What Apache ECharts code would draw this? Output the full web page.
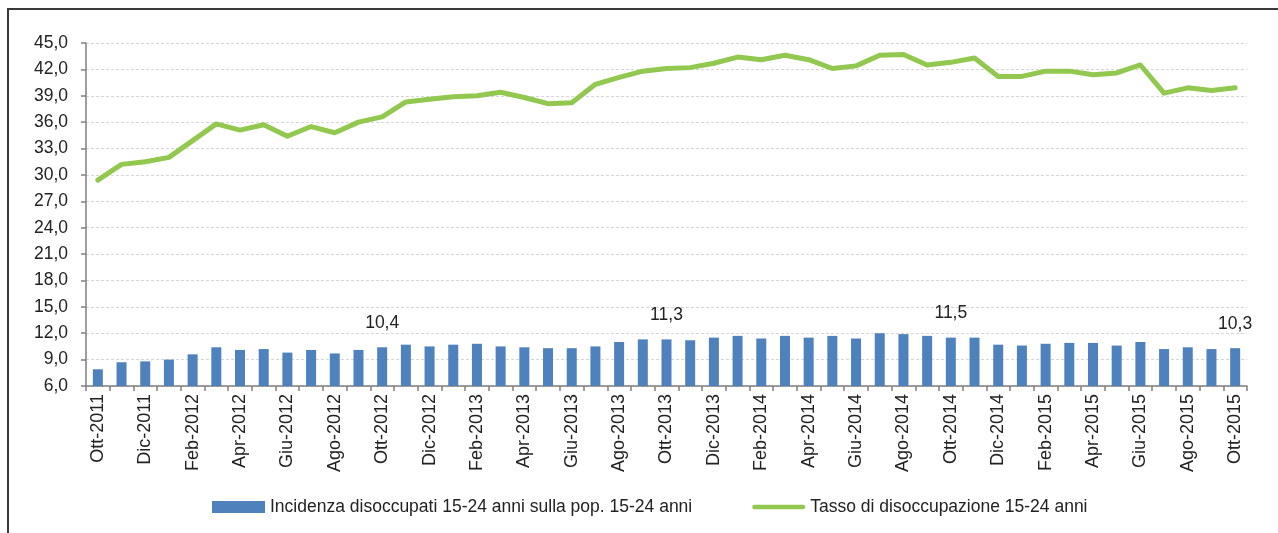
<!DOCTYPE html>
<html>
<head>
<meta charset="utf-8">
<script src="https://cdn.jsdelivr.net/npm/echarts@6/dist/echarts.min.js"></script>
<style>
  html, body { margin: 0; padding: 0; background: #fff; }
  #chart { width: 1278px; height: 533px; }
</style>
</head>
<body>
<div id="chart"></div>
<script>
// Monthly categories, Ott-2011 .. Ott-2015
const months = [
  'Ott-2011','Nov-2011','Dic-2011','Gen-2012','Feb-2012','Mar-2012','Apr-2012','Mag-2012','Giu-2012','Lug-2012','Ago-2012','Set-2012',
  'Ott-2012','Nov-2012','Dic-2012','Gen-2013','Feb-2013','Mar-2013','Apr-2013','Mag-2013','Giu-2013','Lug-2013','Ago-2013','Set-2013',
  'Ott-2013','Nov-2013','Dic-2013','Gen-2014','Feb-2014','Mar-2014','Apr-2014','Mag-2014','Giu-2014','Lug-2014','Ago-2014','Set-2014',
  'Ott-2014','Nov-2014','Dic-2014','Gen-2015','Feb-2015','Mar-2015','Apr-2015','Mag-2015','Giu-2015','Lug-2015','Ago-2015','Set-2015',
  'Ott-2015'
];

// Incidenza disoccupati 15-24 anni sulla pop. 15-24 anni (%)
const incidenza = [
  7.9, 8.7, 8.8, 9.0, 9.6, 10.4, 10.1, 10.2, 9.8, 10.1, 9.7, 10.1,
  10.4, 10.7, 10.5, 10.7, 10.8, 10.5, 10.4, 10.3, 10.3, 10.5, 11.0, 11.3,
  11.3, 11.2, 11.5, 11.7, 11.4, 11.7, 11.5, 11.7, 11.4, 12.0, 11.9, 11.7,
  11.5, 11.5, 10.7, 10.6, 10.8, 10.9, 10.9, 10.6, 11.0, 10.2, 10.4, 10.2,
  10.3
];

// Tasso di disoccupazione 15-24 anni (%)
const tasso = [
  29.4, 31.2, 31.5, 32.0, 33.9, 35.8, 35.1, 35.7, 34.4, 35.5, 34.8, 36.0,
  36.6, 38.3, 38.6, 38.9, 39.0, 39.4, 38.8, 38.1, 38.2, 40.3, 41.1, 41.8,
  42.1, 42.2, 42.7, 43.4, 43.1, 43.6, 43.1, 42.1, 42.4, 43.6, 43.7, 42.5,
  42.8, 43.3, 41.2, 41.2, 41.8, 41.8, 41.4, 41.6, 42.5, 39.3, 39.9, 39.6,
  39.9
];

// Months whose bar carries its value
const labelledIdx = [12, 24, 36, 48];

// Y-axis range
const yMin = 6, yMax = 45, yStep = 3;

const seriesNames = [
  'Incidenza disoccupati 15-24 anni sulla pop. 15-24 anni',
  'Tasso di disoccupazione 15-24 anni'
];

const fmt = v => v.toFixed(1).replace('.', ',');
const FONT = "'Liberation Sans', Arial, sans-serif";

const barData = incidenza.map((v, i) => labelledIdx.includes(i)
  ? { value: v, label: { show: true } }
  : v);

// Thick horizontal stroke for the line legend key (tiny corner specks keep the full box height)
const lineKey = 'path://M0,0L0.05,0L0.05,0.05L0,0.05Z M1,3.5L52,3.5A2.5,2.5 0 0 1 52,8.5L1,8.5A2.5,2.5 0 0 1 1,3.5Z M0,11.95L0.05,11.95L0.05,12L0,12Z';

const chart = echarts.init(document.getElementById('chart'), null, { renderer: 'canvas' });

chart.setOption({
  animation: false,
  backgroundColor: '#ffffff',
  textStyle: { fontFamily: FONT },
  grid: { left: 86, right: 31, top: 43, bottom: 147, containLabel: false },
  graphic: [{
    type: 'polyline',
    shape: { points: [[8, 533], [8, 9], [1278, 9]] },
    style: { stroke: '#3a3a3a', lineWidth: 2, fill: null },
    silent: true
  }],
  legend: {
    left: 207,
    top: 493,
    itemWidth: 53,
    itemHeight: 12,
    itemGap: 60,
    textStyle: { fontFamily: FONT, fontSize: 17.5, color: '#222' },
    data: [
      { name: seriesNames[0], icon: 'rect' },
      { name: seriesNames[1], icon: lineKey }
    ]
  },
  xAxis: {
    type: 'category',
    data: months,
    boundaryGap: true,
    axisLine: { show: true, lineStyle: { color: '#7f7f7f', width: 1.5 } },
    axisTick: { show: true, inside: false, length: 5, interval: 0, alignWithLabel: false,
                lineStyle: { color: '#7f7f7f', width: 1.5 } },
    axisLabel: {
      interval: 1,
      rotate: 90,
      margin: 8,
      fontFamily: FONT,
      fontSize: 18,
      color: '#222'
    },
    splitLine: { show: false }
  },
  yAxis: {
    type: 'value',
    min: yMin,
    max: yMax,
    interval: yStep,
    axisLine: { show: true, lineStyle: { color: '#7f7f7f', width: 1.5 } },
    axisTick: { show: true, inside: false, length: 5, lineStyle: { color: '#7f7f7f', width: 1.5 } },
    axisLabel: {
      formatter: fmt,
      margin: 18,
      fontFamily: FONT,
      fontSize: 17.5,
      color: '#222'
    },
    splitLine: { show: true, lineStyle: { color: '#d6d6d6', type: [3, 2], width: 1 } }
  },
  series: [
    {
      name: seriesNames[0],
      type: 'bar',
      data: barData,
      barWidth: 10,
      itemStyle: { color: '#4f81bd' },
      label: {
        show: false,
        position: 'top',
        distance: 15,
        formatter: p => fmt(p.value),
        fontFamily: FONT,
        fontSize: 17.5,
        color: '#222'
      },
      z: 2
    },
    {
      name: seriesNames[1],
      type: 'line',
      data: tasso,
      symbol: 'none',
      lineStyle: { color: '#92c84f', width: 5, cap: 'round', join: 'round' },
      itemStyle: { color: '#92c84f' },
      z: 3
    }
  ]
});
</script>
</body>
</html>
